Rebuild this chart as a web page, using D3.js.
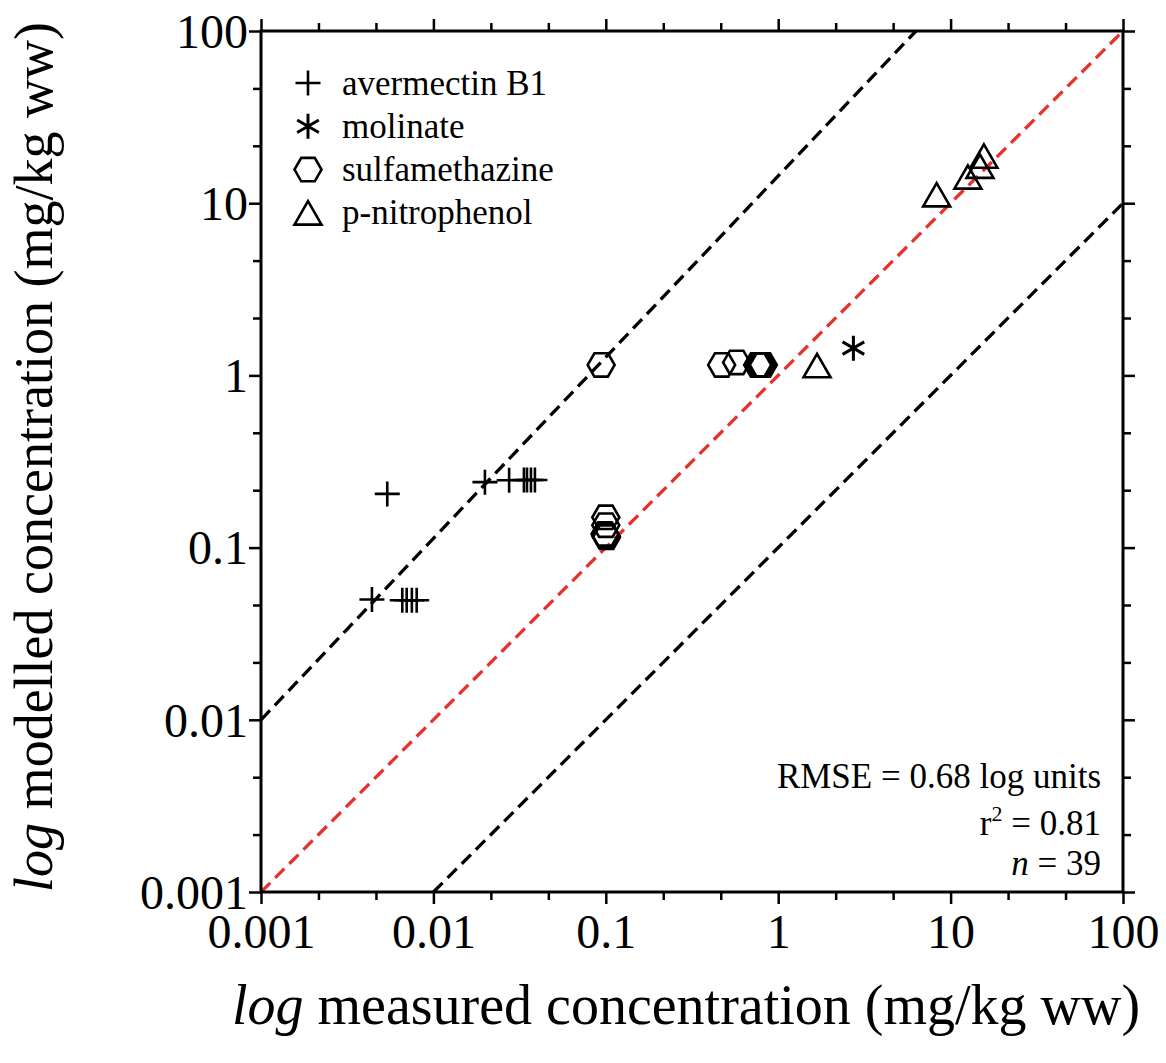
<!DOCTYPE html>
<html><head><meta charset="utf-8">
<script src="https://cdn.jsdelivr.net/npm/d3@7"></script>
<style>html,body{margin:0;padding:0;background:#fff;} svg text{font-family:"Liberation Serif","Times New Roman",serif;}</style>
</head><body>
<script>
// ---- data ----
const majorTicks = [0.001, 0.01, 0.1, 1, 10, 100];
const tickLabels = ["0.001", "0.01", "0.1", "1", "10", "100"];
const avermectin = [
  [0.0054, 0.205], [0.0044, 0.050], [0.0066, 0.0495], [0.0070, 0.0495], [0.0075, 0.0495], [0.0080, 0.0495],
  [0.0199, 0.240], [0.0275, 0.246], [0.0335, 0.247], [0.0349, 0.247], [0.0368, 0.247], [0.0388, 0.247]
];
const molinate = [[2.73, 1.44]];
const sulfamethazine = [
  [0.094, 1.15], [0.47, 1.15], [0.574, 1.19], [0.76, 1.15], [0.78, 1.15], [0.80, 1.15], [0.82, 1.15],
  [0.100, 0.150], [0.100, 0.135], [0.099, 0.120], [0.100, 0.117], [0.101, 0.115]
];
const nitrophenol = [[1.68, 1.14], [8.3, 11.2], [12.6, 14.2], [14.8, 16.4], [15.6, 18.8]];
const oneToOne = [[0.001, 0.001], [100, 100]];
const upperLine = [[0.001, 0.01], [6.3, 100]];
const lowerLine = [[0.01, 0.001], [100, 10]];
const legendItems = ["avermectin B1", "molinate", "sulfamethazine", "p-nitrophenol"];
const statsLines = ["RMSE = 0.68 log units", "r2 = 0.81", "n = 39"];

// ---- layout ----
const W = 1166, H = 1063;
const L = 261, T = 31, R = 1123, B = 892;
const FONT = "Liberation Serif, Times New Roman, serif";

const svg = d3.select("body").append("svg").attr("width", W).attr("height", H)
  .attr("font-family", FONT);

const x = d3.scaleLog().domain([0.001, 100]).range([L, R]);
const y = d3.scaleLog().domain([0.001, 100]).range([B, T]);

const minorTicks = [];
for (let k = -3; k < 2; k++) { minorTicks.push(Math.pow(10, k + 1/3), Math.pow(10, k + 2/3)); }

// clip
svg.append("clipPath").attr("id", "clip").append("rect")
  .attr("x", L).attr("y", T).attr("width", R - L).attr("height", B - T);

// reference lines
const line = d3.line().x(d => x(d[0])).y(d => y(d[1]));
const gl = svg.append("g").attr("clip-path", "url(#clip)");
gl.append("path").attr("d", line(upperLine)).attr("fill", "none").attr("stroke", "#000")
  .attr("stroke-width", 3.3).attr("stroke-dasharray", "13,7");
gl.append("path").attr("d", line(lowerLine)).attr("fill", "none").attr("stroke", "#000")
  .attr("stroke-width", 3.3).attr("stroke-dasharray", "13,7");
gl.append("path").attr("d", line(oneToOne)).attr("fill", "none").attr("stroke", "#e8302c")
  .attr("stroke-width", 3.3).attr("stroke-dasharray", "13,7");

// axes
function styleAxis(g) {
  g.attr("font-family", FONT);
  g.select(".domain").remove();
  g.selectAll(".tick line").attr("stroke", "#000").attr("stroke-width", 2.5);
}
const axB = svg.append("g").attr("transform", `translate(0,${B})`)
  .call(d3.axisBottom(x).tickValues(majorTicks).tickSize(12).tickFormat((d, i) => tickLabels[i]));
axB.call(styleAxis);
axB.selectAll("text").attr("font-size", 48).attr("fill", "#000").attr("dy", null).attr("y", 56);
svg.append("g").attr("transform", `translate(0,${B})`)
  .call(d3.axisBottom(x).tickValues(minorTicks).tickSize(8).tickFormat("")).call(styleAxis);

const axL = svg.append("g").attr("transform", `translate(${L},0)`)
  .call(d3.axisLeft(y).tickValues(majorTicks).tickSize(12).tickFormat((d, i) => tickLabels[i]));
axL.call(styleAxis);
axL.selectAll("text").attr("font-size", 48).attr("fill", "#000").attr("x", -13).attr("dy", "0.34em");
svg.append("g").attr("transform", `translate(${L},0)`)
  .call(d3.axisLeft(y).tickValues(minorTicks).tickSize(8).tickFormat("")).call(styleAxis);

svg.append("g").attr("transform", `translate(0,${T})`)
  .call(d3.axisTop(x).tickValues(majorTicks).tickSize(12).tickFormat("")).call(styleAxis);
svg.append("g").attr("transform", `translate(0,${T})`)
  .call(d3.axisTop(x).tickValues(minorTicks).tickSize(8).tickFormat("")).call(styleAxis);
svg.append("g").attr("transform", `translate(${R},0)`)
  .call(d3.axisRight(y).tickValues(majorTicks).tickSize(12).tickFormat("")).call(styleAxis);
svg.append("g").attr("transform", `translate(${R},0)`)
  .call(d3.axisRight(y).tickValues(minorTicks).tickSize(8).tickFormat("")).call(styleAxis);

// frame
svg.append("rect").attr("x", L).attr("y", T).attr("width", R - L).attr("height", B - T)
  .attr("fill", "none").attr("stroke", "#000").attr("stroke-width", 3);

// markers
const SW = 2.6;
function plusPath(s) { return `M${-s},0H${s}M0,${-s}V${s}`; }
function starPath(s) {
  let p = `M0,${-s}V${s}`;
  [30, 150].forEach(a => {
    const r = a * Math.PI / 180, dx = s * Math.cos(r), dy = s * Math.sin(r);
    p += `M${-dx},${-dy}L${dx},${dy}`;
  });
  return p;
}
function hexPath(r) {
  const pts = d3.range(6).map(i => [r * Math.cos(i * Math.PI / 3), r * Math.sin(i * Math.PI / 3)]);
  return "M" + pts.map(p => p.join(",")).join("L") + "Z";
}
function triPath(s) {
  const h = s * Math.sqrt(3) / 2;
  return `M0,${-h / 2}L${s / 2},${h / 2}L${-s / 2},${h / 2}Z`;
}
const shapes = {
  plus: plusPath(12.5), star: starPath(12.5), hex: hexPath(13.5), tri: triPath(27)
};
const series = [
  { data: avermectin, shape: "plus", sw: SW },
  { data: molinate, shape: "star", sw: 3 },
  { data: sulfamethazine, shape: "hex", sw: SW },
  { data: nitrophenol, shape: "tri", sw: SW }
];
const gm = svg.append("g");
series.forEach(s => {
  gm.selectAll(null).data(s.data).enter().append("path")
    .attr("transform", d => `translate(${x(d[0])},${y(d[1])})`)
    .attr("d", shapes[s.shape]).attr("fill", "none").attr("stroke", "#000")
    .attr("stroke-width", s.sw).attr("stroke-linejoin", "miter");
});

// legend
const lg = svg.append("g").attr("font-family", FONT);
legendItems.forEach((t, i) => {
  const yy = 83 + i * 43.3;
  lg.append("path").attr("transform", `translate(308,${yy})`).attr("d", shapes[series[i].shape])
    .attr("fill", "none").attr("stroke", "#000").attr("stroke-width", series[i].sw);
  lg.append("text").attr("x", 342).attr("y", yy).attr("dy", "0.33em")
    .attr("font-family", FONT).attr("font-size", 35).attr("fill", "#000").text(t);
});

// stats
const st = svg.append("g").attr("font-family", FONT).attr("font-size", 35).attr("fill", "#000").attr("text-anchor", "end");
st.append("text").attr("x", 1101).attr("y", 788).text(statsLines[0]);
const t2 = st.append("text").attr("x", 1101).attr("y", 835);
t2.append("tspan").text("r");
t2.append("tspan").attr("font-size", 22).attr("dy", -14).text("2");
t2.append("tspan").attr("dy", 14).text(" = 0.81");
const t3 = st.append("text").attr("x", 1101).attr("y", 875);
t3.append("tspan").attr("font-style", "italic").text("n");
t3.append("tspan").text(" = 39");

// axis titles
const xt = svg.append("text").attr("x", 686).attr("y", 1024).attr("text-anchor", "middle")
  .attr("font-family", FONT).attr("font-size", 56).attr("fill", "#000");
xt.append("tspan").attr("font-style", "italic").text("log");
xt.append("tspan").text(" measured concentration (mg/kg ww)");
const yt = svg.append("text").attr("transform", `translate(52,457) rotate(-90)`)
  .attr("text-anchor", "middle").attr("font-family", FONT).attr("font-size", 54).attr("fill", "#000");
yt.append("tspan").attr("font-style", "italic").text("log");
yt.append("tspan").text(" modelled concentration (mg/kg ww)");
</script>
</body></html>
